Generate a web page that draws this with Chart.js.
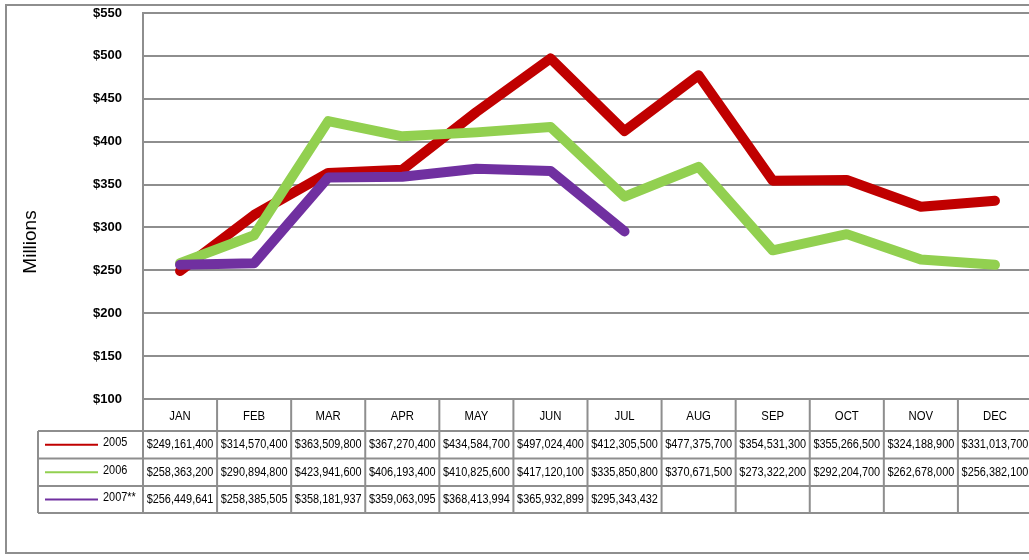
<!DOCTYPE html>
<html>
<head>
<meta charset="utf-8">
<script src="https://cdn.jsdelivr.net/npm/chart.js@4"></script>
<style>
  html, body { margin: 0; padding: 0; background: #fff; overflow: hidden; }
  #wrap { width: 1029px; height: 560px; overflow: hidden; position: relative; }
</style>
</head>
<body>
<div id="wrap"><canvas id="grafico" width="1040" height="560"></canvas></div>
<script>
const meses = ["JAN", "FEB", "MAR", "APR", "MAY", "JUN", "JUL", "AUG", "SEP", "OCT", "NOV", "DEC"];
const anos = ["2005", "2006", "2007**"];
const v2005 = [249161400, 314570400, 363509800, 367270400, 434584700, 497024400, 412305500, 477375700, 354531300, 355266500, 324188900, 331013700];
const v2006 = [258363200, 290894800, 423941600, 406193400, 410825600, 417120100, 335850800, 370671500, 273322200, 292204700, 262678000, 256382100];
const v2007 = [256449641, 258385505, 358181937, 359063095, 368413994, 365932899, 295343432, null, null, null, null, null];
const cores = ["#c00000", "#92d050", "#7030a0"];

const series = [v2005, v2006, v2007];
const cinza = "#8e8e8e";
const fonte = "'Liberation Sans', Arial, sans-serif";

function milhoes(arr) {
  return arr.map(v => v === null ? null : v / 1e6);
}
function dinheiro(v) {
  return v === null ? "" : "$" + v.toLocaleString("en-US");
}

// texto "estreito": sem Arial Narrow, aperta na horizontal
function textoEstreito(c, txt, x, y, align) {
  const k = 0.84;
  c.save();
  c.translate(x, y);
  c.scale(k, 1);
  c.textAlign = align;
  c.fillText(txt, 0, 0);
  c.restore();
}

// moldura + tabela de dados embaixo
const tabela = {
  id: "tabela",
  beforeDraw(chart) {
    const c = chart.ctx;
    c.save();
    c.strokeStyle = cinza;
    c.lineWidth = 2;
    c.strokeRect(6, 5, 1200, 548);
    c.restore();
  },
  afterDraw(chart) {
    const c = chart.ctx;
    const x = chart.scales.x;
    const area = chart.chartArea;
    const larg = (area.right - area.left) / meses.length;
    const topo = area.bottom;
    const linhas = [topo, 431, 458.5, 486, 513];
    const esq = 38;

    c.save();
    c.strokeStyle = cinza;
    c.lineWidth = 2;
    // horizontais
    c.beginPath();
    c.moveTo(area.left, linhas[0]);
    c.lineTo(area.right, linhas[0]);
    for (let i = 1; i < linhas.length; i++) {
      c.moveTo(esq, linhas[i]);
      c.lineTo(area.right, linhas[i]);
    }
    // verticais
    for (let i = 0; i <= meses.length; i++) {
      const px = area.left + i * larg;
      c.moveTo(px, linhas[0]);
      c.lineTo(px, linhas[4]);
    }
    c.moveTo(esq, linhas[1]);
    c.lineTo(esq, linhas[4]);
    c.stroke();

    c.fillStyle = "#000";
    c.textBaseline = "middle";
    c.font = "13.5px " + fonte;
    meses.forEach((m, i) => {
      textoEstreito(c, m, x.getPixelForValue(i), (linhas[0] + linhas[1]) / 2 + 1, "center");
    });

    c.font = "13px " + fonte;
    series.forEach((s, r) => {
      const cy = (linhas[r + 1] + linhas[r + 2]) / 2;
      s.forEach((v, i) => {
        textoEstreito(c, dinheiro(v), x.getPixelForValue(i), cy, "center");
      });
      // legenda
      c.strokeStyle = cores[r];
      c.lineWidth = 2;
      c.beginPath();
      c.moveTo(45, cy);
      c.lineTo(98, cy);
      c.stroke();
      textoEstreito(c, anos[r], 103, cy - 2, "left");
    });

    // titulo do eixo
    c.translate(31, 242);
    c.rotate(-Math.PI / 2);
    c.textAlign = "center";
    c.font = "19px " + fonte;
    c.fillText("Millions", 0, 0);
    c.restore();
  }
};

new Chart(document.getElementById("grafico"), {
  type: "line",
  data: {
    labels: meses,
    datasets: series.map((s, i) => ({
      label: anos[i],
      data: milhoes(s),
      borderColor: cores[i],
      backgroundColor: cores[i],
      borderWidth: 10,
      borderJoinStyle: "round",
      borderCapStyle: "round",
      pointRadius: 0,
      tension: 0,
      order: 3 - i
    }))
  },
  options: {
    responsive: false,
    animation: false,
    layout: { padding: { top: 13, right: 8, bottom: 161, left: 0 } },
    plugins: {
      legend: { display: false },
      tooltip: { enabled: false }
    },
    scales: {
      x: {
        display: false,
        offset: true
      },
      y: {
        min: 100,
        max: 550,
        afterFit(scale) { scale.width = 143; },
        ticks: {
          stepSize: 50,
          padding: 0,
          color: "#000",
          font: { family: fonte, size: 13, weight: "bold" },
          callback: v => "$" + v
        },
        grid: {
          color: cinza,
          lineWidth: 2,
          drawTicks: true,
          tickLength: 21,
          tickColor: "rgba(0,0,0,0)"
        },
        border: { display: true, color: cinza, width: 2 }
      }
    }
  },
  plugins: [tabela]
});
</script>
</body>
</html>
